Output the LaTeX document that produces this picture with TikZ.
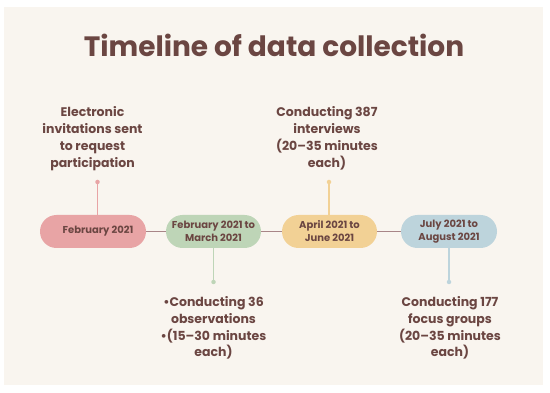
\documentclass[tikz,border=0pt]{standalone}
\usepackage{fontspec}
\setmainfont{Poppins}[BoldFont=* Bold]
\definecolor{cream}{HTML}{F9F5EF}
\definecolor{brown}{HTML}{6B4642}
\definecolor{rose}{HTML}{E8A4A5}
\definecolor{sage}{HTML}{BED5B7}
\definecolor{sand}{HTML}{F2D195}
\definecolor{mist}{HTML}{BDD4DC}
\definecolor{link}{HTML}{A88587}
\begin{document}
\begin{tikzpicture}[x=1pt, y=-1pt,
		pill/.style = {rectangle, rounded corners=16.5pt, minimum height=33pt, inner sep=0pt, align=center, text=brown, font=\bfseries\fontsize{10}{13}\selectfont},
		note/.style = {align=center, inner sep=0pt, text=brown, font=\bfseries\fontsize{12.5}{16.8}\selectfont},
		dot/.style = {circle, inner sep=0pt, minimum size=4.5pt},
		l/.style = {draw=link, line width=1.1pt},
		]
		
		%Frame
		\useasboundingbox (0, 0) rectangle (550, 393);
		\fill[cream] (4, 7) rectangle (543, 385);
		\node[text=brown, font=\bfseries\fontsize{28}{36}\selectfont]	(title)	at	(274, 45)	{Timeline of data collection};
		
		%Nodes
		\node[pill, fill=rose, minimum width=106pt]	(p1)	at	(93, 231.5)	{\hspace{10pt}February 2021};
		\node[pill, fill=sage, minimum width=95pt]	(p2)	at	(213.5, 231.5)	{February 2021 to\\March 2021};
		\node[pill, fill=sand, minimum width=95pt]	(p3)	at	(329.5, 231.5)	{April 2021 to\\June 2021};
		\node[pill, fill=mist, minimum width=96pt]	(p4)	at	(449, 231.5)	{July 2021 to\\August 2021};
		
		\node[dot, fill=rose]	(d1)	at	(97.5, 182)	{};
		\node[dot, fill=sage]	(d2)	at	(213.5, 282)	{};
		\node[dot, fill=sand]	(d3)	at	(329, 182)	{};
		\node[dot, fill=mist]	(d4)	at	(449, 282)	{};
		
		\node[note]	(t1)	at	(92.5, 138.5)	{Electronic\\invitations sent\\to request\\participation};
		\node[note]	(t2)	at	(327, 138.5)	{Conducting 387\\interviews\\(20--35 minutes\\each)};
		\node[note]	(t3)	at	(213.5, 328)	{•Conducting 36\\observations\\•(15--30 minutes\\each)};
		\node[note]	(t4)	at	(450, 328)	{Conducting 177\\focus groups\\(20--35 minutes\\each)};
		
		%Lines
		\draw[l]	(p1)	--	(p2);
		\draw[l]	(p2)	--	(p3);
		\draw[l]	(p3)	--	(p4);
		\draw[rose, line width=1.1pt]	(d1)	--	(d1 |- p1.north);
		\draw[sage, line width=1.1pt]	(d2)	--	(d2 |- p2.south);
		\draw[sand, line width=1.1pt]	(d3)	--	(d3 |- p3.north);
		\draw[mist, line width=1.1pt]	(d4)	--	(d4 |- p4.south);
		
	\end{tikzpicture}
\end{document}
